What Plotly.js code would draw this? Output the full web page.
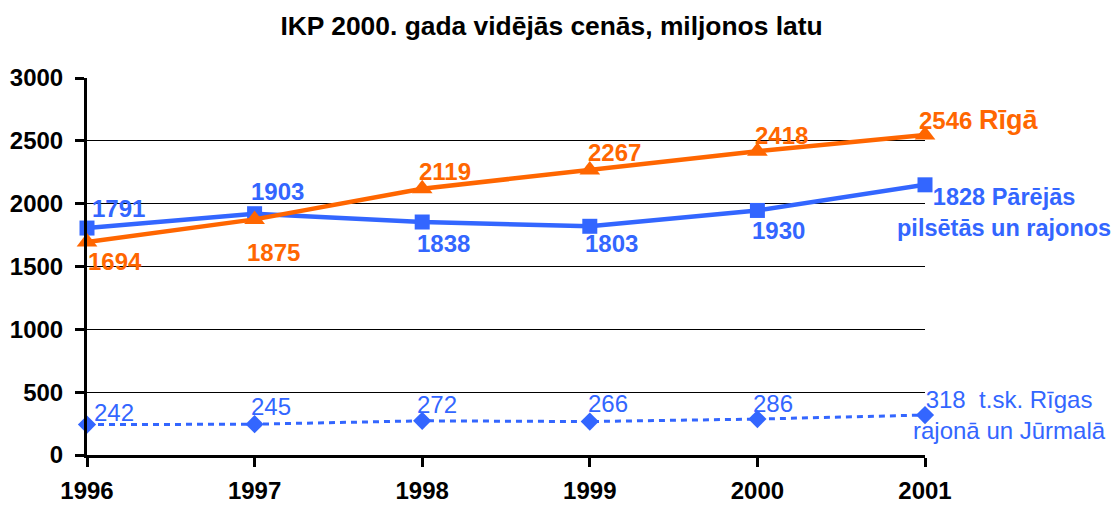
<!DOCTYPE html>
<html>
<head>
<meta charset="utf-8">
<script src="https://cdn.plot.ly/plotly-3.0.1.min.js"></script>
<style>html,body{margin:0;padding:0;background:#fff;}#chart{width:1112px;height:506px;}</style>
</head>
<body>
<div id="chart"></div>
<script>
// ---- data ----
const years = [1996, 1997, 1998, 1999, 2000, 2001];
const rigaValues = [1694, 1875, 2119, 2267, 2418, 2546];
const rigaLabels = ['1694', '1875', '2119', '2267', '2418', '2546'];
const otherValues = [1806, 1920, 1854, 1820, 1946, 2150];
const otherLabels = ['1791', '1903', '1838', '1803', '1930', '1828'];
const jurmalaValues = [242, 245, 272, 266, 286, 318];
const jurmalaLabels = ['242', '245', '272', '266', '286', '318'];
const seriesNames = ['Rīgā', 'Pārējās<br>pilsētās un rajonos', ' t.sk. Rīgas<br>rajonā un Jūrmalā'];
const yTicks = [0, 500, 1000, 1500, 2000, 2500, 3000];

// ---- styling ----
const ORANGE = '#FF6600';
const BLUE = '#3366FF';
const FONT = 'Liberation Sans, Arial, sans-serif';
const n = years.length;
const last = n - 1;

// label offsets in pixels from each point (dx right, dy down)
const rigaOffsets = [[28, 19], [19, 33], [23, -17], [25, -18], [24, -16]];
const otherOffsets = [[31, -20], [23, -22], [21, 21], [22, 17], [21, 20]];
const jurmalaOffsets = [[27, -12], [16, -18], [15, -16], [18, -18], [16, -16]];

const traces = [
  {
    x: years, y: jurmalaValues, name: seriesNames[2], mode: 'lines+markers',
    line: {color: BLUE, width: 3, dash: '6px,5px'},
    marker: {symbol: 'diamond', size: 14, color: BLUE},
    cliponaxis: false, hoverinfo: 'skip'
  },
  {
    x: years, y: otherValues, name: seriesNames[1], mode: 'lines+markers',
    line: {color: BLUE, width: 4.5},
    marker: {symbol: 'square', size: 15, color: BLUE},
    cliponaxis: false, hoverinfo: 'skip'
  },
  {
    x: years, y: rigaValues, name: seriesNames[0], mode: 'lines+markers',
    line: {color: ORANGE, width: 4.5},
    marker: {symbol: 'triangle-up', size: 18, color: ORANGE},
    cliponaxis: false, hoverinfo: 'skip'
  }
];

function pointLabels(values, labels, offsets, font) {
  return offsets.map((o, i) => ({
    x: years[i], y: values[i], xref: 'x', yref: 'y',
    text: labels[i], showarrow: false,
    xanchor: 'center', yanchor: 'middle',
    xshift: o[0], yshift: -o[1],
    font: font
  }));
}

const boldOrange = {family: FONT, size: 24, color: ORANGE, weight: 'bold'};
const boldBlue = {family: FONT, size: 24, color: BLUE, weight: 'bold'};
const plainBlue = {family: FONT, size: 24, color: BLUE};

const annotations = [].concat(
  pointLabels(rigaValues, rigaLabels, rigaOffsets, boldOrange),
  pointLabels(otherValues, otherLabels, otherOffsets, boldBlue),
  pointLabels(jurmalaValues, jurmalaLabels, jurmalaOffsets, plainBlue),
  [
    {
      x: years[last], y: rigaValues[last], xref: 'x', yref: 'y',
      text: rigaLabels[last] + ' <span style="font-size:27px">' + seriesNames[0] + '</span>',
      showarrow: false, xanchor: 'left', yanchor: 'middle', xshift: -8, yshift: 15,
      font: boldOrange
    },
    {
      x: years[last], y: otherValues[last], xref: 'x', yref: 'y',
      text: otherLabels[last] + ' ' + seriesNames[1],
      showarrow: false, xanchor: 'center', yanchor: 'middle', xshift: 79, yshift: -28,
      align: 'center',
      font: {family: FONT, size: 23.5, color: BLUE, weight: 'bold'}
    },
    {
      x: years[last], y: jurmalaValues[last], xref: 'x', yref: 'y',
      text: jurmalaLabels[last] + ' ' + seriesNames[2],
      showarrow: false, xanchor: 'center', yanchor: 'middle', xshift: 84, yshift: 0,
      align: 'center',
      font: {family: FONT, size: 24, color: BLUE}
    }
  ]
);

const layout = {
  width: 1112, height: 506,
  margin: {l: 87, r: 187, t: 78, b: 51, pad: 0},
  paper_bgcolor: '#ffffff', plot_bgcolor: '#ffffff',
  showlegend: false,
  font: {family: FONT, color: '#000'},
  title: {
    text: 'IKP 2000. gada vidējās cenās, miljonos latu',
    font: {family: FONT, size: 26.4, color: '#000', weight: 'bold'},
    xref: 'container', x: 0.496, xanchor: 'center',
    yref: 'container', y: 0.95, yanchor: 'middle'
  },
  xaxis: {
    type: 'linear', range: [1996, 2001], tickvals: years, ticktext: years.map(String),
    showgrid: false, zeroline: false,
    showline: true, linecolor: '#000', linewidth: 3,
    ticks: 'outside', ticklen: 9, tickwidth: 3, tickcolor: '#000',
    ticklabelstandoff: 3,
    tickfont: {family: FONT, size: 24, color: '#000', weight: 'bold'},
    fixedrange: true
  },
  yaxis: {
    range: [0, 3000], tickvals: yTicks,
    showgrid: true, gridcolor: '#000', gridwidth: 1, zeroline: false,
    showline: true, linecolor: '#000', linewidth: 3,
    ticks: 'outside', ticklen: 9, tickwidth: 3, tickcolor: '#000',
    ticklabelstandoff: 7,
    tickfont: {family: FONT, size: 24, color: '#000', weight: 'bold'},
    fixedrange: true
  },
  annotations: annotations
};

Plotly.newPlot('chart', traces, layout, {displayModeBar: false, staticPlot: true});
</script>
</body>
</html>
